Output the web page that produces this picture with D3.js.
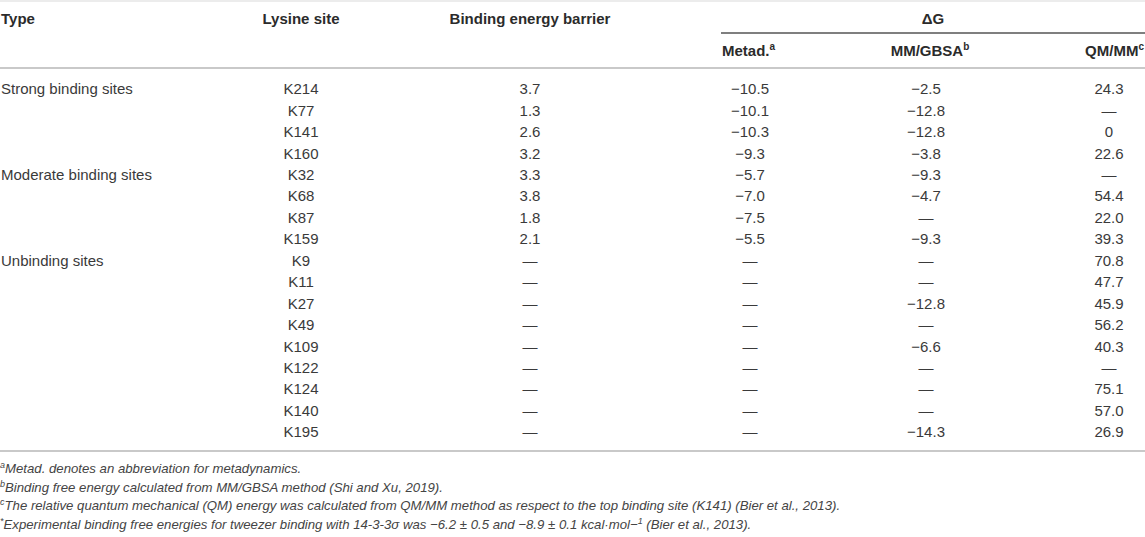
<!DOCTYPE html>
<html>
<head>
<meta charset="utf-8">
<script src="https://cdn.jsdelivr.net/npm/d3@7"></script>
<style>
  body { margin: 0; background: #fff; }
  svg { display: block; font-family: "Liberation Sans", Arial, sans-serif; }
</style>
</head>
<body>
<svg width="1145" height="537"></svg>
<script>
// datos de la tabla
const sites = ["K214", "K77", "K141", "K160", "K32", "K68", "K87", "K159", "K9", "K11",
  "K27", "K49", "K109", "K122", "K124", "K140", "K195"];
const groups = [
  { label: "Strong binding sites", row: 0 },
  { label: "Moderate binding sites", row: 4 },
  { label: "Unbinding sites", row: 8 }
];
const barrier = [3.7, 1.3, 2.6, 3.2, 3.3, 3.8, 1.8, 2.1, null, null, null, null, null, null, null, null, null];
const metad = [-10.5, -10.1, -10.3, -9.3, -5.7, -7.0, -7.5, -5.5, null, null, null, null, null, null, null, null, null];
const mmgbsa = [-2.5, -12.8, -12.8, -3.8, -9.3, -4.7, null, -9.3, null, null, -12.8, null, -6.6, null, null, null, -14.3];
const qmmm = [24.3, null, 0, 22.6, null, 54.4, 22.0, 39.3, 70.8, 47.7, 45.9, 56.2, 40.3, null, 75.1, 57.0, 26.9];

const footnotes = [
  { sup: "a", text: "Metad. denotes an abbreviation for metadynamics." },
  { sup: "b", text: "Binding free energy calculated from MM/GBSA method (Shi and Xu, 2019)." },
  { sup: "c", text: "The relative quantum mechanical (QM) energy was calculated from QM/MM method as respect to the top binding site (K141) (Bier et al., 2013)." },
  { sup: "*", text: "Experimental binding free energies for tweezer binding with 14-3-3σ was −6.2 ± 0.5 and −8.9 ± 0.1 kcal·mol−", sup2: "1", tail: " (Bier et al., 2013)." }
];

const svg = d3.select("svg");
const textColor = "#3a3a3a";
const lineColor = "#c9c9c9";

// escala vertical de filas
const y = d3.scaleLinear().domain([0, sites.length - 1]).range([89, 432]);

// columnas
const colX = d3.scaleOrdinal()
  .domain(["site", "barrier", "metad", "mmgbsa", "qmmm"])
  .range([301, 530, 750, 926, 1109]);

const fmt = v => v === null ? "—" : (v === 0 ? "0" : d3.format(".1f")(v));

// líneas horizontales
svg.append("line").attr("x1", 0).attr("x2", 1145).attr("y1", 1).attr("y2", 1)
  .attr("stroke", "#e6e6e6").attr("stroke-width", 1.5);
svg.append("line").attr("x1", 0).attr("x2", 1145).attr("y1", 68).attr("y2", 68)
  .attr("stroke", lineColor).attr("stroke-width", 1.8);
svg.append("line").attr("x1", 0).attr("x2", 1145).attr("y1", 451).attr("y2", 451)
  .attr("stroke", lineColor).attr("stroke-width", 1.8);
svg.append("line").attr("x1", 721).attr("x2", 1145).attr("y1", 33).attr("y2", 33)
  .attr("stroke", "#555").attr("stroke-width", 1.5);

// encabezados
const head = svg.append("g")
  .style("font-weight", "bold")
  .style("font-size", "15px")
  .attr("fill", "#2b2b2b");

head.append("text").attr("x", 1).attr("y", 24).text("Type");
head.append("text").attr("x", colX("site")).attr("y", 24).attr("text-anchor", "middle").text("Lysine site");
head.append("text").attr("x", colX("barrier")).attr("y", 24).attr("text-anchor", "middle").text("Binding energy barrier");
head.append("text").attr("x", 933).attr("y", 24).attr("text-anchor", "middle").text("ΔG");

const subHeads = [
  { key: "metad", label: "Metad.", sup: "a", anchor: "start", x: 722 },
  { key: "mmgbsa", label: "MM/GBSA", sup: "b", anchor: "middle", x: 930 },
  { key: "qmmm", label: "QM/MM", sup: "c", anchor: "end", x: 1144 }
];
subHeads.forEach(h => {
  const t = head.append("text").attr("x", h.x).attr("y", 56).attr("text-anchor", h.anchor);
  t.append("tspan").text(h.label);
  t.append("tspan").attr("dy", -6).style("font-size", "10px").text(h.sup);
});

// cuerpo
const body = svg.append("g")
  .style("font-size", "15px")
  .attr("fill", textColor);

body.selectAll(".group")
  .data(groups)
  .enter()
  .append("text")
  .attr("class", "group")
  .attr("x", 1)
  .attr("y", d => y(d.row))
  .attr("dy", "0.35em")
  .text(d => d.label);

const columns = [
  { key: "site", values: sites, f: d => d },
  { key: "barrier", values: barrier, f: fmt },
  { key: "metad", values: metad, f: fmt },
  { key: "mmgbsa", values: mmgbsa, f: fmt },
  { key: "qmmm", values: qmmm, f: fmt }
];

columns.forEach(c => {
  body.selectAll(".c-" + c.key)
    .data(c.values)
    .enter()
    .append("text")
    .attr("class", "c-" + c.key)
    .attr("x", colX(c.key))
    .attr("y", (d, i) => y(i))
    .attr("dy", "0.35em")
    .attr("text-anchor", "middle")
    .text(c.f);
});

// notas al pie
const notes = svg.append("g")
  .style("font-size", "13.2px")
  .style("font-style", "italic")
  .attr("fill", "#444");

notes.selectAll("text")
  .data(footnotes)
  .enter()
  .append("text")
  .attr("x", 0)
  .attr("y", (d, i) => 473 + i * 18.5)
  .each(function(d) {
    const t = d3.select(this);
    t.append("tspan").attr("dy", -5).style("font-size", "9px").text(d.sup);
    t.append("tspan").attr("dy", 5).text(d.text);
    if (d.sup2) {
      t.append("tspan").attr("dy", -5).style("font-size", "9px").text(d.sup2);
      t.append("tspan").attr("dy", 5).text(d.tail);
    }
  });
</script>
</body>
</html>
